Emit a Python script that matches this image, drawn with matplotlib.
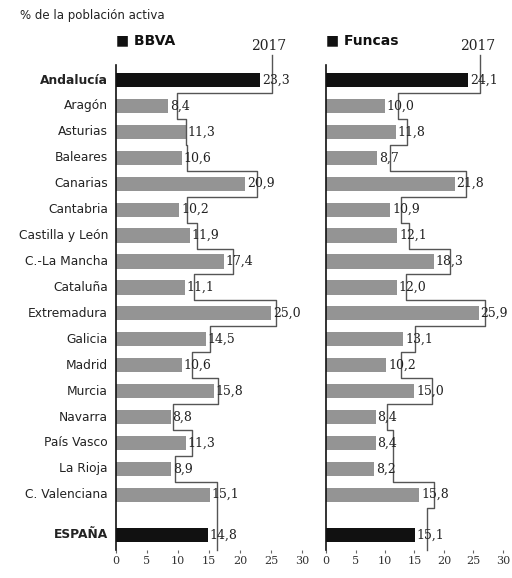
import matplotlib.pyplot as plt
import numpy as np

# Data
regions = ["Andalucía", "Aragón", "Asturias", "Baleares", "Canarias", "Cantabria",
           "Castilla y León", "C.-La Mancha", "Cataluña", "Extremadura", "Galicia",
           "Madrid", "Murcia", "Navarra", "País Vasco", "La Rioja", "C. Valenciana",
           "ESPAÑA"]
bbva = [23.3, 8.4, 11.3, 10.6, 20.9, 10.2, 11.9, 17.4, 11.1, 25.0, 14.5,
        10.6, 15.8, 8.8, 11.3, 8.9, 15.1, 14.8]
funcas = [24.1, 10.0, 11.8, 8.7, 21.8, 10.9, 12.1, 18.3, 12.0, 25.9, 13.1,
          10.2, 15.0, 8.4, 8.4, 8.2, 15.8, 15.1]
# 2017 reference values (step outline)
bbva_2017 = [25.2, 9.9, 11.3, 11.5, 22.7, 11.5, 13.0, 18.9, 12.6, 25.8, 15.2,
             12.2, 16.5, 9.2, 12.3, 9.5, 16.3, 16.3]
funcas_2017 = [26.2, 12.2, 13.8, 10.8, 23.7, 12.7, 14.0, 21.0, 13.5, 26.9, 15.1,
               12.7, 18.0, 10.3, 11.4, 11.4, 18.3, 17.2]
ticks = [0, 5, 10, 15, 20, 25, 30]

highlight = ["Andalucía", "ESPAÑA"]
ypos = np.append(np.arange(len(regions) - 1), len(regions) - 1 + 0.55)
ytop, ybot = -0.6, ypos[-1] + 0.6

fig = plt.figure(figsize=(5.12, 5.78), dpi=100)
ax1 = fig.add_axes([0.2266, 0.0476, 0.363, 0.8408])
ax2 = fig.add_axes([0.637, 0.0476, 0.345, 0.8408])

num_font = "DejaVu Serif"
lab_font = "DejaVu Sans"


def draw_panel(ax, vals, vals17, name):
    colors = ["#111111" if r in highlight else "#949494" for r in regions]
    ax.barh(ypos, vals, height=0.55, color=colors, zorder=2)

    # step outline for 2017
    xs, ys = [], []
    for i, v in enumerate(vals17):
        top = -0.97 if i == 0 else ys[-1]
        bot = ypos[i] + 0.5 if i < len(vals17) - 1 else ybot
        xs += [v, v]
        ys += [top, bot]
    ax.plot(xs, ys, color="#555555", lw=1, zorder=3, clip_on=False)
    ax.text(vals17[0] - 0.5, -1.05, "2017", ha="center", va="bottom",
            fontsize=10, family=num_font, color="#222222")

    for y, v in zip(ypos, vals):
        ax.text(v + 0.3, y, f"{v:.1f}".replace(".", ","), va="center",
                ha="left", fontsize=9, family=num_font, color="#222222",
                zorder=4, clip_on=False)

    ax.set_xlim(0, 30)
    ax.set_ylim(ybot, ytop)
    ax.set_xticks(ticks)
    ax.set_xticklabels([str(t) for t in ticks], family=num_font,
                       fontsize=8, color="#333333")
    ax.tick_params(axis="x", length=2, pad=2, color="#666666")
    ax.set_yticks([])
    for s in ["top", "right", "bottom"]:
        ax.spines[s].set_visible(False)
    ax.spines["left"].set_color("#111111")
    ax.spines["left"].set_linewidth(1.2)
    ax.text(0.05, -1.25, "■ " + name, ha="left", va="bottom", fontsize=10,
            fontweight="bold", family="DejaVu Sans", color="#111111")


draw_panel(ax1, bbva, bbva_2017, "BBVA")
draw_panel(ax2, funcas, funcas_2017, "Funcas")

for y, r in zip(ypos, regions):
    ax1.text(-1.3, y, r, ha="right", va="center", fontsize=8.8,
             family=lab_font, color="#222222",
             fontweight="bold" if r in highlight else "normal")

fig.text(20 / 512, 1 - 15 / 578, "% de la población activa", ha="left",
         va="center", fontsize=8.5, family=lab_font, color="#222222")

fig.savefig("out.png", dpi=100, facecolor="white")
